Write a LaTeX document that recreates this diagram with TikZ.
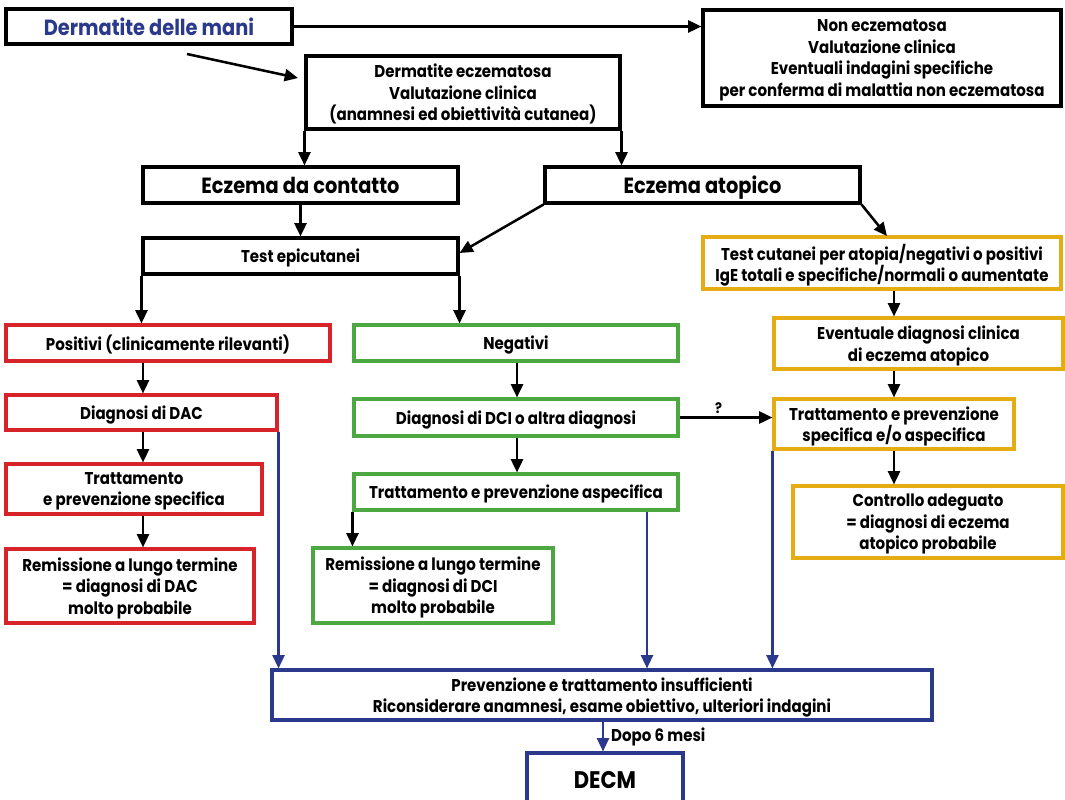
\documentclass[tikz,border=0pt]{standalone}
\usepackage{fontspec}
\setmainfont{Poppins}[FakeStretch=0.88]
\usetikzlibrary{arrows.meta,calc}
\definecolor{navy}{RGB}{43,57,140}
\definecolor{flowred}{RGB}{215,35,42}
\definecolor{flowgreen}{RGB}{78,168,66}
\definecolor{flowgold}{RGB}{230,172,20}
\tikzset{
  % rectangle given by its corners in pixel units: {x1}{y1}{x2}{y2}
  spanning/.style n args={4}{
    minimum width={(#3-#1)*0.75pt}, minimum height={(#4-#2)*0.75pt},
    at={({(#1+#3)/2},{(#2+#4)/2})}},
  box/.style={draw, line width=2.3pt, inner sep=0pt, align=center, text depth=0pt,
    font=\bfseries\fontsize{12.8}{16.2}\selectfont},
  bigbox/.style={box, font=\bfseries\fontsize{16.5}{19}\selectfont},
  redbox/.style={box, draw=flowred},
  greenbox/.style={box, draw=flowgreen},
  goldbox/.style={box, draw=flowgold},
  bluebox/.style={box, draw=navy},
  arr/.style={-{Triangle[length=10pt,width=9pt]}, line width=1.9pt},
  bluearr/.style={arr, draw=navy, fill=navy, line width=1.7pt},
}
\begin{document}
\begin{tikzpicture}[x=0.75pt,y=-0.75pt]
\path[use as bounding box, clip] (0,0) rectangle (1065,800);

% top row
\node[bigbox, text=navy, spanning={6}{9}{292}{44}] (dm) {Dermatite delle mani};
\node[box, spanning={703}{10}{1061}{106}] (non) {Non eczematosa\\Valutazione clinica\\Eventuali indagini specifiche\\per conferma di malattia non eczematosa};
\node[box, spanning={306}{56}{620}{129}] (ecz) {Dermatite eczematosa\\Valutazione clinica\\(anamnesi ed obiettività cutanea)};

% eczema types
\node[bigbox, spanning={143}{167}{458}{203}] (contatto) {Eczema da contatto};
\node[bigbox, spanning={545}{167}{860}{203}] (atopico) {Eczema atopico};
\node[box, spanning={143}{238}{458}{274}] (epic) {Test epicutanei};
\node[goldbox, spanning={703}{237}{1061}{289}] (cutanei) {Test cutanei per atopia/negativi o positivi\\IgE totali e specifiche/normali o aumentate};

% contact dermatitis branch
\node[redbox, spanning={6}{325}{330}{361}] (pos) {Positivi (clinicamente rilevanti)};
\node[redbox, spanning={6}{395}{277}{430}] (dac) {Diagnosi di DAC};
\node[redbox, spanning={6}{464}{262}{514}] (tratr) {Trattamento\\e prevenzione specifica};
\node[redbox, spanning={6}{549}{254}{623}] (remr) {Remissione a lungo termine\\= diagnosi di DAC\\molto probabile};

% irritant dermatitis branch
\node[greenbox, spanning={354}{325}{678}{361}] (neg) {Negativi};
\node[greenbox, spanning={354}{399}{678}{436}] (dci) {Diagnosi di DCI o altra diagnosi};
\node[greenbox, spanning={354}{474}{678}{510}] (tratg) {Trattamento e prevenzione aspecifica};
\node[greenbox, spanning={313}{548}{553}{623}] (remg) {Remissione a lungo termine\\= diagnosi di DCI\\molto probabile};

% atopic branch
\node[goldbox, spanning={774}{318}{1063}{369}] (event) {Eventuale diagnosi clinica\\di eczema atopico};
\node[goldbox, spanning={774}{399}{1014}{449}] (traty) {Trattamento e prevenzione\\specifica e/o aspecifica};
\node[goldbox, spanning={793}{486}{1063}{558}] (contr) {Controllo adeguato\\= diagnosi di eczema\\atopico probabile};

% outcome
\node[bluebox, spanning={272}{670}{932}{720}] (insuff) {Prevenzione e trattamento insufficienti\\Riconsiderare anamnesi, esame obiettivo, ulteriori indagini};
\node[bluebox, font=\bfseries\fontsize{18}{21}\selectfont, spanning={527}{753}{683}{807}] (decm) {DECM};

% connectors
\draw[arr] (dm.east) -- (non.west |- dm.east);
\coordinate (dmfoot) at (187,54);
\coordinate (ecztip) at (298,78);
\draw[arr] (dmfoot) -- (ecztip);
\draw[arr] (ecz.south west) -- (ecz.south west |- contatto.north);
\draw[arr] (ecz.south east) -- (ecz.south east |- atopico.north);
\draw[arr] (contatto.south) -- (epic.north);
\draw[arr] (atopico.south west) -- ($(epic.east)+(0,-3)$);
\coordinate (cuttip) at (887,236);
\draw[arr] (atopico.south east) -- (cuttip);
\draw[arr] (epic.south west) -- (epic.south west |- pos.north);
\draw[arr] (epic.south east) -- (epic.south east |- neg.north);
\draw[arr] (pos.south -| 143,0) -- (dac.north -| 143,0);
\draw[arr] (dac.south -| 143,0) -- (tratr.north -| 143,0);
\draw[arr] (tratr.south -| 143,0) -- (remr.north -| 143,0);
\draw[arr] (neg.south -| 517,0) -- (dci.north -| 517,0);
\draw[arr] (dci.south -| 517,0) -- (tratg.north -| 517,0);
\draw[arr] (tratg.south west) -- (tratg.south west |- remg.north);
\draw[arr] (cutanei.south -| 894,0) -- (event.north -| 894,0);
\draw[arr] (event.south -| 894,0) -- (traty.north -| 894,0);
\draw[arr] (traty.south -| 894,0) -- (contr.north -| 894,0);
\draw[arr] (dci.east) -- node[above, font=\bfseries\fontsize{11}{12}\selectfont, pos=0.42, inner sep=2pt] (q) {?} (traty.west |- dci.east);

% links to the common outcome box
\draw[bluearr] (dac.south east) -- (dac.south east |- insuff.north);
\draw[bluearr] (tratg.south -| 647,0) -- (insuff.north -| 647,0);
\draw[bluearr] (traty.south west) -- (traty.south west |- insuff.north);
\draw[bluearr] (insuff.south -| 603,0) -- node[right, font=\bfseries\fontsize{12.8}{14}\selectfont, xshift=2pt] (dopo) {Dopo 6 mesi} (decm.north -| 603,0);
\end{tikzpicture}
\end{document}
